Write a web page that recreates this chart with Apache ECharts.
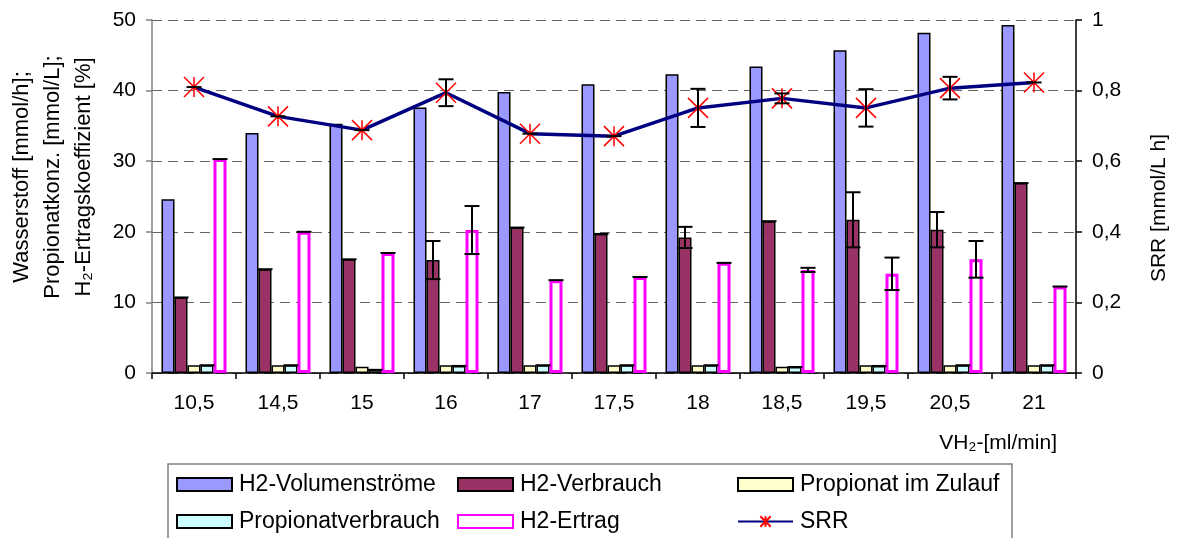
<!DOCTYPE html>
<html>
<head>
<meta charset="utf-8">
<script src="https://cdn.jsdelivr.net/npm/echarts@6/dist/echarts.min.js"></script>
<style>
html,body{margin:0;padding:0;background:#fff;}
#chart{width:1177px;height:538px;}
</style>
</head>
<body>
<div id="chart"></div>
<script>
const categories = ['10,5','14,5','15','16','17','17,5','18','18,5','19,5','20,5','21'];
const h2Volumen = [24.6, 34.0, 35.3, 37.6, 39.8, 40.9, 42.3, 43.4, 45.7, 48.2, 49.3];
const h2Verbrauch = [10.7, 14.7, 16.1, 16.0, 20.6, 19.7, 19.2, 21.5, 21.7, 20.3, 26.9];
const h2VerbrauchErr = [0, 0, 0, 2.7, 0, 0, 1.5, 0, 3.9, 2.5, 0];
const propZulauf = [1.1, 1.1, 0.9, 1.1, 1.1, 1.1, 1.1, 0.9, 1.1, 1.1, 1.1];
const propVerbrauch = [1.1, 1.1, 0.45, 1.0, 1.1, 1.1, 1.1, 0.85, 1.0, 1.1, 1.1];
const propVerbrauchErr = [0, 0, 0, 0, 0, 0, 0, 0, 0, 0, 0];
const h2Ertrag = [30.3, 20.0, 17.0, 20.25, 13.15, 13.6, 15.6, 14.6, 14.05, 16.1, 12.25];
const h2ErtragErr = [0, 0, 0, 3.4, 0, 0, 0, 0.3, 2.3, 2.6, 0];
const srr = [0.81, 0.727, 0.688, 0.794, 0.678, 0.671, 0.751, 0.778, 0.751, 0.807, 0.823];
const srrErr = [0, 0, 0, 0.038, 0, 0, 0.054, 0.014, 0.053, 0.032, 0];
const leftTicks = [0, 10, 20, 30, 40, 50];
const rightTicks = ['0', '0,2', '0,4', '0,6', '0,8', '1'];

const FONT = "'Liberation Sans', Arial, sans-serif";
const BW = 13;
const chart = echarts.init(document.getElementById('chart'), null, {renderer: 'canvas'});

function errData(vals, errs) { return vals.map((v, i) => [i, v, errs[i]]); }
function errRender(offset, half) {
  return function (params, api) {
    const i = api.value(0), v = api.value(1), e = api.value(2);
    const c = api.coord([i, v]);
    const t = api.coord([i, v + e]);
    const b = api.coord([i, v - e]);
    const x = c[0] + offset;
    const st = {stroke: '#000', lineWidth: 2};
    const ch = [];
    ch.push({type: 'line', shape: {x1: x - half, y1: t[1], x2: x + half, y2: t[1]}, style: st});
    if (e > 0) {
      ch.push({type: 'line', shape: {x1: x, y1: t[1], x2: x, y2: b[1]}, style: st});
      ch.push({type: 'line', shape: {x1: x - half, y1: b[1], x2: x + half, y2: b[1]}, style: st});
    }
    return {type: 'group', children: ch};
  };
}
function errSeries(name, vals, errs, offset, yIdx) {
  return {
    name: name, type: 'custom', yAxisIndex: yIdx, z: 5,
    data: errData(vals, errs), encode: {x: 0, y: 1},
    renderItem: errRender(offset, 7.5), silent: true
  };
}

const starPath = 'path://M0,0L10,10M10,0L0,10M5,0L5,10';
const barBorder = {borderColor: '#000', borderWidth: 1.5};
const legendCommon = {
  orient: 'vertical', itemWidth: 55, itemHeight: 13, itemGap: 14, padding: 0,
  height: 70,
  textStyle: {fontFamily: FONT, fontSize: 23, color: '#000', lineHeight: 23, padding: [0, 0, 0, 2]},
  selectedMode: false
};

chart.setOption({
  animation: false,
  backgroundColor: '#fff',
  textStyle: {fontFamily: FONT},
  grid: {left: 152, right: 101, top: 20, bottom: 165},
  legend: [
    Object.assign({}, legendCommon, {left: 176, top: 473,
      data: [{name: 'H2-Volumenströme', icon: 'rect'}, {name: 'Propionatverbrauch', icon: 'rect'}]}),
    Object.assign({}, legendCommon, {left: 457, top: 473,
      data: [{name: 'H2-Verbrauch', icon: 'rect'}, {name: 'H2-Ertrag', icon: 'rect'}]}),
    Object.assign({}, legendCommon, {left: 737, top: 473,
      data: [{name: 'Propionat im Zulauf', icon: 'rect'}, {name: 'SRR'}]})
  ],
  xAxis: {
    type: 'category', data: categories,
    axisLine: {lineStyle: {color: '#000', width: 1.5}},
    axisTick: {show: true, length: 6, lineStyle: {color: '#000', width: 1.5}},
    axisLabel: {fontFamily: FONT, fontSize: 21, color: '#000', margin: 20}
  },
  yAxis: [
    {
      type: 'value', min: 0, max: 50, interval: 10, position: 'left',
      axisLine: {show: true, lineStyle: {color: '#808080', width: 1.5}},
      axisTick: {show: true, length: 6, lineStyle: {color: '#808080', width: 1.5}},
      axisLabel: {fontFamily: FONT, fontSize: 21, color: '#000', margin: 16,
        formatter: v => String(leftTicks[Math.round(v / 10)])},
      splitLine: {show: true, lineStyle: {color: '#666', type: [10, 6], width: 1}}
    },
    {
      type: 'value', min: 0, max: 1, interval: 0.2, position: 'right',
      axisLine: {show: true, lineStyle: {color: '#000', width: 1.5}},
      axisTick: {show: true, length: 6, lineStyle: {color: '#000', width: 1.5}},
      axisLabel: {fontFamily: FONT, fontSize: 21, color: '#000', margin: 16,
        formatter: v => rightTicks[Math.round(v / 0.2)]},
      splitLine: {show: false}
    }
  ],
  series: [
    {name: 'H2-Volumenströme', type: 'bar', data: h2Volumen, barWidth: BW, barGap: '0%',
     itemStyle: Object.assign({color: '#9999FF'}, barBorder)},
    {name: 'H2-Verbrauch', type: 'bar', data: h2Verbrauch, barWidth: BW, barGap: '0%',
     itemStyle: Object.assign({color: '#993366'}, barBorder)},
    {name: 'Propionat im Zulauf', type: 'bar', data: propZulauf, barWidth: BW, barGap: '0%',
     itemStyle: Object.assign({color: '#FFFFCC'}, barBorder)},
    {name: 'Propionatverbrauch', type: 'bar', data: propVerbrauch, barWidth: BW, barGap: '0%',
     itemStyle: Object.assign({color: '#CCFFFF'}, barBorder)},
    {name: 'H2-Ertrag', type: 'bar', data: h2Ertrag, barWidth: BW, barGap: '0%',
     itemStyle: {color: '#FFFFFF', borderColor: '#FF00FF', borderWidth: 3}},
    {name: 'SRR', type: 'line', yAxisIndex: 1, data: srr, z: 4,
     lineStyle: {color: '#000080', width: 3.5},
     symbol: starPath, symbolSize: 20, showAllSymbol: true,
     itemStyle: {color: 'rgba(0,0,0,0)', borderColor: '#FF0000', borderWidth: 1.5},
     emphasis: {disabled: true}},
    errSeries('errVerbrauch', h2Verbrauch, h2VerbrauchErr, -BW, 0),
    errSeries('errPropVerbrauch', propVerbrauch, propVerbrauchErr, BW, 0),
    errSeries('errErtrag', h2Ertrag, h2ErtragErr, 2 * BW, 0),
    errSeries('errSRR', srr, srrErr, 0, 1)
  ],
  graphic: [
    {type: 'rect', shape: {x: 168, y: 464, width: 844, height: 90}, z: -1,
     style: {fill: '#fff', stroke: '#808080', lineWidth: 1.5}},
    {type: 'text', x: 53, y: 177, rotation: Math.PI / 2,
     style: {text: 'Wasserstoff [mmol/h];\nPropionatkonz. [mmol/L];\nH₂-Ertragskoeffizient [%]',
       font: '22px ' + FONT, fill: '#000', textAlign: 'center', textVerticalAlign: 'middle', lineHeight: 31}},
    {type: 'text', x: 1159, y: 208, rotation: Math.PI / 2,
     style: {text: 'SRR [mmol/L h]', font: '21px ' + FONT, fill: '#000', textAlign: 'center', textVerticalAlign: 'middle'}},
    {type: 'text', x: 1057, y: 443,
     style: {text: 'VH₂-[ml/min]', font: '21px ' + FONT, fill: '#000', textAlign: 'right', textVerticalAlign: 'middle'}}
  ]
});
</script>
</body>
</html>
